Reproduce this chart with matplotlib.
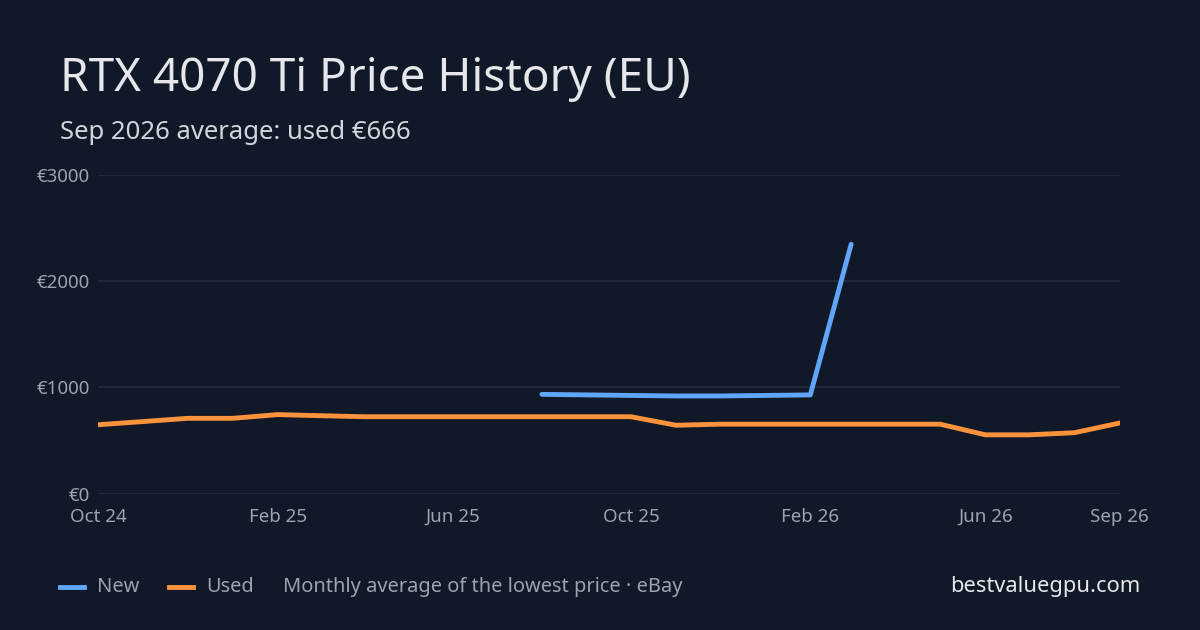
import matplotlib
matplotlib.use("Agg")
import matplotlib.pyplot as plt
import pandas as pd

plt.rcParams['font.family'] = ['Noto Sans', 'DejaVu Sans']

months = pd.date_range("2024-10-01", "2026-09-01", freq="MS")
used = [650, 680, 710, 710, 745, 735, 725, 725, 725, 725, 725, 725, 725, 645, 655, 655,
        655, 655, 655, 655, 555, 555, 575, 666]
new_months = pd.date_range("2025-08-01", "2026-03-01", freq="MS")
new = [935, 930, 925, 920, 920, 925, 930, 2345]
tick_dates = pd.to_datetime(["2024-10-01", "2025-02-01", "2025-06-01", "2025-10-01",
                             "2026-02-01", "2026-06-01", "2026-09-01"])
tick_labels = ["Oct 24", "Feb 25", "Jun 25", "Oct 25", "Feb 26", "Jun 26", "Sep 26"]
yticks = [0, 1000, 2000, 3000]

BG = "#111827"
fig = plt.figure(figsize=(12, 6.3), dpi=100, facecolor=BG)
ax = fig.add_axes([0.082, 0.216, 0.851, 0.507], facecolor=BG)
ax.plot(new_months, new, color="#60a5fa", lw=3.5, solid_capstyle="round", zorder=3)
ax.plot(months, used, color="#fb923c", lw=3.5, solid_capstyle="round", zorder=3)
ax.set_xlim(months[0], months[-1])
ax.set_ylim(0, 3000)
ax.set_yticks(yticks)
ax.set_yticklabels([f"€{v}" for v in yticks])
ax.set_xticks(tick_dates)
ax.set_xticklabels(tick_labels)
ax.grid(axis="y", color="#1f2937", lw=1.5)
for s in ax.spines.values():
    s.set_visible(False)
ax.tick_params(length=0, colors="#9ca3af", labelsize=13.5)
ax.tick_params(axis="y", pad=6)
ax.tick_params(axis="x", pad=10)

fig.text(0.05, 0.875, "RTX 4070 Ti Price History (EU)", color="#e5e7eb", fontsize=33, va="center")
fig.text(0.05, 0.79, "Sep 2026 average: used €666", color="#d1d5db", fontsize=18.5, va="center")
y = 0.069
fig.lines.append(plt.Line2D([0.05, 0.07], [y, y], transform=fig.transFigure, color="#60a5fa", lw=3.5))
fig.text(0.081, y, "New", color="#9ca3af", fontsize=14.4, va="center")
fig.lines.append(plt.Line2D([0.141, 0.161], [y, y], transform=fig.transFigure, color="#fb923c", lw=3.5))
fig.text(0.172, y, "Used", color="#9ca3af", fontsize=14.4, va="center")
fig.text(0.236, y, "Monthly average of the lowest price · eBay", color="#9ca3af", fontsize=14.4, va="center")
fig.text(0.95, y, "bestvaluegpu.com", color="#e5e7eb", fontsize=15.8, va="center", ha="right")
fig.savefig("out.png", facecolor=BG)
